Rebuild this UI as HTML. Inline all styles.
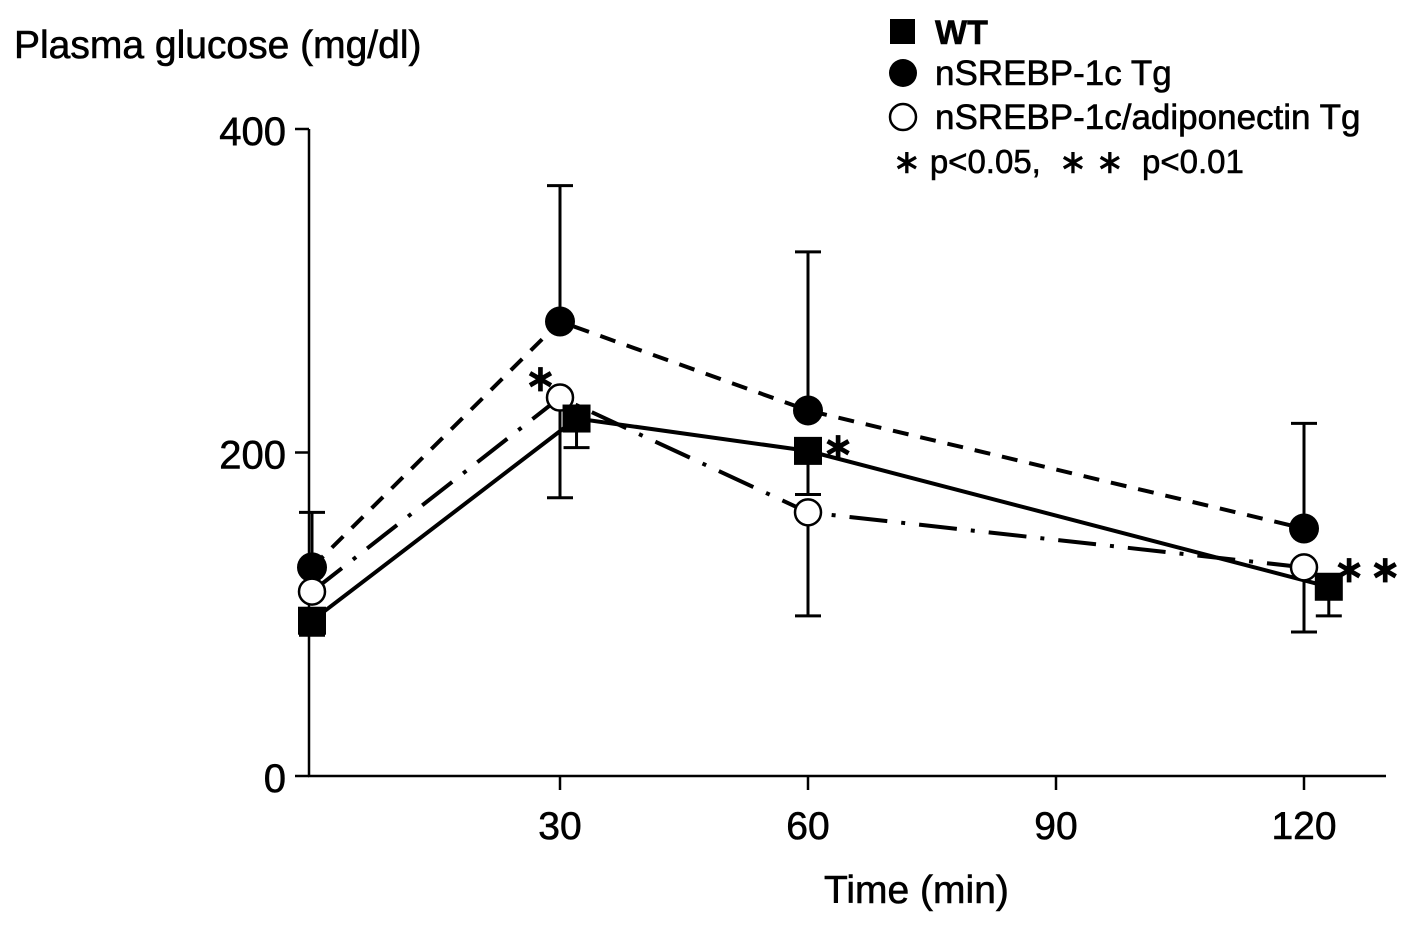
<!DOCTYPE html>
<html><head><meta charset="utf-8">
<style>
html,body{margin:0;padding:0;background:#fff;}
svg{display:block;font-family:"Liberation Sans",Arial,sans-serif;}
text{stroke:#000;stroke-width:0.6;}
</style></head>
<body>
<svg id="chart" width="1417" height="939" viewBox="0 0 1417 939" xmlns="http://www.w3.org/2000/svg">
<text x="14" y="58" font-size="39" fill="#000">Plasma glucose (mg/dl)</text>
<text x="824" y="903" font-size="39" fill="#000">Time (min)</text>
<g id="axes"></g>
<g id="series"></g>
<g>
  <rect x="890" y="19" width="25" height="25" fill="#000"/>
  <text x="935" y="44" font-size="34" font-weight="bold">WT</text>
  <circle cx="903" cy="73" r="14" fill="#000"/>
  <text x="935" y="85" font-size="35">nSREBP-1c Tg</text>
  <circle cx="903" cy="117" r="13" fill="#fff" stroke="#000" stroke-width="2.5"/>
  <text x="935" y="129" font-size="35">nSREBP-1c/adiponectin Tg</text>
  <text x="893" y="173" font-size="33">∗ p&lt;0.05,&#160; ∗ ∗&#160; p&lt;0.01</text>
</g>
</svg>
<script>
const yTicks = [0, 200, 400];
const xTicks = [30, 60, 90, 120];
const wtTimes = [0, 32, 60, 123];
const wtValues = [96, 221, 201, 117];
const wtErrLow = [87, 203, 174, 99];
const tgTimes = [0, 30, 60, 120];
const tgValues = [129, 281, 226, 153];
const tgErrHigh = [163, 365, 324, 218];
const adTimes = [0, 30, 60, 120];
const adValues = [114, 234, 163, 129];
const adErrLow = [114, 172, 99, 89];
const sigTimes = [28, 64, 128];
const sigValues = [252, 210, 134];
const sigLabels = ["∗", "∗", "∗∗"];

const NS = "http://www.w3.org/2000/svg";
const X = t => 312 + t * (248 / 30);
const Y = v => 776 - v * 1.6175;
function mk(tag, attrs, parent) {
  const e = document.createElementNS(NS, tag);
  for (const k in attrs) e.setAttribute(k, attrs[k]);
  parent.appendChild(e);
  return e;
}
const axes = document.getElementById('axes');
const series = document.getElementById('series');
let e;
e = mk('line', {x1: 309, y1: Y(400), x2: 309, y2: 777, stroke: '#000', 'stroke-width': 2.5}, axes);


e = mk('line', {x1: 308, y1: 776, x2: 1386, y2: 776, stroke: '#000', 'stroke-width': 2.5}, axes);


yTicks.forEach(v => {
  e = mk('line', {x1: 295, y1: Y(v), x2: 309, y2: Y(v), stroke: '#000', 'stroke-width': 2.5}, axes);
  
  
  e = mk('text', {x: 286, y: Y(v) + 16, 'font-size': 40, 'text-anchor': 'end'}, axes);
  e.textContent = v;
  
  
});
xTicks.forEach(t => {
  e = mk('line', {x1: X(t), y1: 776, x2: X(t), y2: 790, stroke: '#000', 'stroke-width': 2.5}, axes);
  
  
  e = mk('text', {x: X(t), y: 839, 'font-size': 39, 'text-anchor': 'middle'}, axes);
  e.textContent = t;
  
  
});
function errBar(t, v, end, name) {
  const g = mk('g', {}, series);
  
  
  mk('line', {x1: X(t), y1: Y(v), x2: X(t), y2: Y(end), stroke: '#000', 'stroke-width': 3}, g);
  mk('line', {x1: X(t) - 13, y1: Y(end), x2: X(t) + 13, y2: Y(end), stroke: '#000', 'stroke-width': 3}, g);
}
tgTimes.forEach((t, i) => errBar(t, tgValues[i], tgErrHigh[i], 'tg-error-bar'));
adTimes.forEach((t, i) => { if (adErrLow[i] < adValues[i]) errBar(t, adValues[i], adErrLow[i], 'adipo-error-bar'); });
wtTimes.forEach((t, i) => errBar(t, wtValues[i], wtErrLow[i], 'wt-error-bar'));
function pts(ts, vs) { return ts.map((t, i) => X(t) + ',' + Y(vs[i])).join(' '); }
e = mk('polyline', {points: pts(tgTimes, tgValues), fill: 'none', stroke: '#000', 'stroke-width': 4, 'stroke-dasharray': '16 12'}, series);


e = mk('polyline', {points: pts(adTimes, adValues), fill: 'none', stroke: '#000', 'stroke-width': 4, 'stroke-dasharray': '38 14 4 14'}, series);


e = mk('polyline', {points: pts(wtTimes, wtValues), fill: 'none', stroke: '#000', 'stroke-width': 4}, series);


tgTimes.forEach((t, i) => {
  e = mk('circle', {cx: X(t), cy: Y(tgValues[i]), r: 15, fill: '#000'}, series);
  
  
});
adTimes.forEach((t, i) => {
  e = mk('circle', {cx: X(t), cy: Y(adValues[i]), r: 13, fill: '#fff', stroke: '#000', 'stroke-width': 2.5}, series);
  
  
});
wtTimes.forEach((t, i) => {
  e = mk('rect', {x: X(t) - 14, y: Y(wtValues[i]) - 14, width: 28, height: 28, fill: '#000'}, series);
  
  
});
sigTimes.forEach((t, i) => {
  e = mk('text', {x: X(t), y: Y(sigValues[i]) + 22, 'font-size': 36, 'font-weight': 'bold', 'text-anchor': 'middle', 'letter-spacing': 6}, series);
  e.textContent = sigLabels[i];
  
  
});
</script>
</body></html>
